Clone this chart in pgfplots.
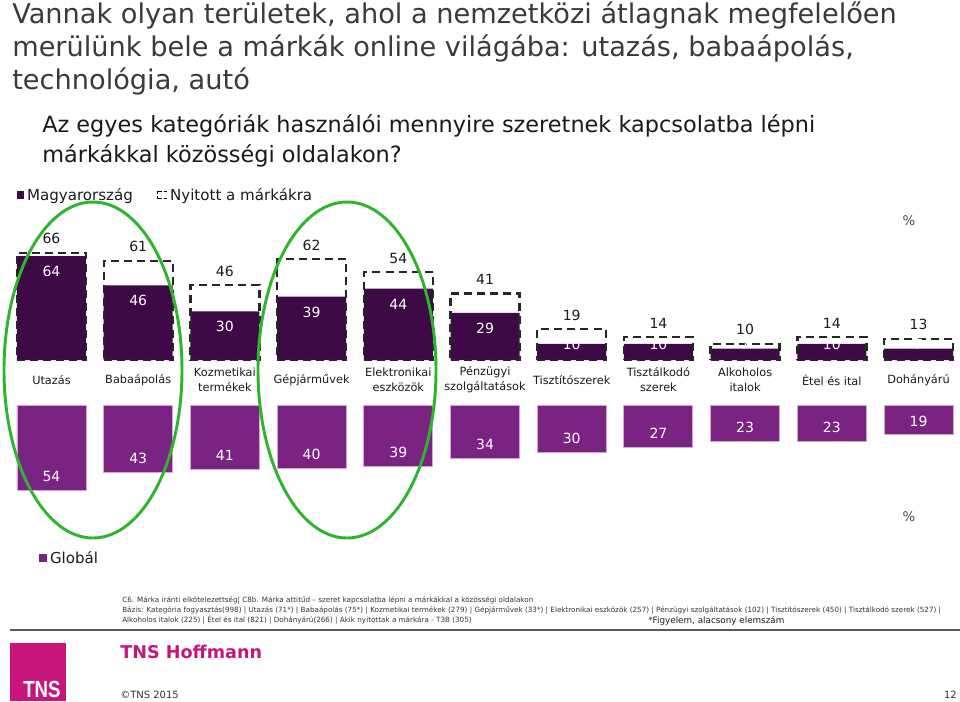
\documentclass[border=0pt]{standalone}
\usepackage{pgfplots}
\usepackage{pgfplotstable}
\pgfplotsset{compat=1.18}
\usepackage{fontspec}
\setmainfont{DejaVu Sans}
\newfontfamily\libsans{Liberation Sans}
\definecolor{darkbar}{HTML}{3E0A45}
\definecolor{globbar}{HTML}{7A2382}
\definecolor{globedge}{HTML}{D4A6D9}
\definecolor{ellgreen}{HTML}{2DB52D}
\definecolor{tnsmag}{HTML}{C8157C}
\definecolor{titlegray}{HTML}{3A3A3A}
\definecolor{txt}{HTML}{1A1A1A}
\definecolor{footgray}{HTML}{333333}
\newcommand{\fs}[2]{\fontsize{#1}{#2}\selectfont}

% top chart: Magyarorszag (hu), Nyitott a markakra (op), label position for hu
\pgfplotstableread{
x hu op hulab
0 64 66 54.4
1 46 61 36.4
2 30 46 20.4
3 39 62 29.4
4 44 54 34.4
5 29 41 19.4
6 10 19 9.4
7 10 14 9.4
8 7 10 9.4
9 10 14 9.4
10 7 13 9.4
}\toptable

% bottom chart: Global (gl), label position
\pgfplotstableread{
x gl gllab
0 54 45.1
1 43 34.1
2 41 32.1
3 40 31.1
4 39 30.1
5 34 25.1
6 30 21.1
7 27 18.1
8 23 14.1
9 23 14.1
10 19 10.1
}\bottable

\begin{document}
\begin{tikzpicture}
\useasboundingbox (0pt,0pt) rectangle (720pt,-525.75pt);

% ---------------- top chart ----------------
\begin{axis}[
  at={(6.11pt,-270pt)}, anchor=south west,
  scale only axis, width=715.3pt, height=85.31pt,
  xmin=-0.5, xmax=10.5, ymin=0, ymax=70,
  clip=false,
  axis line style={draw=none},
  tick style={draw=none},
  ytick=\empty,
  xtick={0,...,10},
  xtick pos=left,
  xticklabels={Utazás,Babaápolás,{Kozmetikai\\termékek},Gépjárművek,{Elektronikai\\eszközök},{Pénzügyi\\szolgáltatások},Tisztítószerek,{Tisztálkodó\\szerek},{Alkoholos\\italok},Étel és ital,Dohányárú},
  xticklabel style={align=center, font=\fs{8.5}{11.2}, text=txt, anchor=center, yshift=-15pt},
  legend columns=2,
  legend style={draw=none, fill=none, inner sep=0pt, font=\fs{11.3}{13}, text=txt,
    at={(0.0093,1.4505)}, anchor=west,
    /tikz/every even column/.append style={column sep=16pt}},
  legend cell align=left,
]
\addplot[ybar, bar width=51.75pt, bar shift=0pt, fill=darkbar, draw=none,
  legend image code/.code={\fill[darkbar] (0pt,-2.7pt) rectangle (5.4pt,2.7pt);}]
  table[x=x, y=hu] {\toptable};
\addlegendentry{Magyarország}
\addplot[ybar, bar width=51.75pt, bar shift=0pt, fill=none, draw=black!85,
  line width=1.8pt, dash pattern=on 6pt off 3.8pt,
  nodes near coords, point meta=explicit symbolic,
  nodes near coords align={center},
  every node near coord/.append style={font=\fs{10.5}{12}, text=txt, yshift=10.5pt, solid},
  legend image code/.code={\draw[black, line width=0.9pt, dash pattern=on 2.2pt off 1.2pt] (7pt,2.6pt) -- (0pt,2.6pt) -- (0pt,-2.6pt) -- (7pt,-2.6pt);}]
  table[x=x, y=op, meta=op] {\toptable};
\addlegendentry{Nyitott a márkákra}
\addplot[draw=none, mark=none, forget plot,
  nodes near coords, point meta=explicit symbolic,
  nodes near coords align={center},
  every node near coord/.append style={font=\fs{10.5}{12}, text=white}]
  table[x=x, y=hulab, meta=hu] {\toptable};
\end{axis}

% ---------------- bottom chart ----------------
\begin{axis}[
  at={(6.11pt,-303.75pt)}, anchor=north west,
  scale only axis, width=715.3pt, height=70.83pt,
  xmin=-0.5, xmax=10.5, ymin=0, ymax=60,
  y dir=reverse,
  clip=false,
  hide axis,
  legend style={draw=none, fill=none, inner sep=0pt, font=\fs{11.3}{13}, text=txt,
    at={(0.0323,-0.62)}, anchor=west},
  legend cell align=left,
]
\addplot[ybar, bar width=51.75pt, bar shift=0pt, fill=globbar, draw=globedge, line width=0.7pt,
  legend image code/.code={\fill[globbar] (0pt,-2.7pt) rectangle (5.4pt,2.7pt);}]
  table[x=x, y=gl] {\bottable};
\addlegendentry{Globál}
\addplot[draw=none, mark=none, forget plot,
  nodes near coords, point meta=explicit symbolic,
  nodes near coords align={center},
  every node near coord/.append style={font=\fs{10.5}{12}, text=white}]
  table[x=x, y=gllab, meta=gl] {\bottable};
\end{axis}

% ---------------- slide decoration ----------------
\begin{scope}[x=0.75pt, y=-0.75pt]
  % green ellipses
  \draw[ellgreen, line width=2.2pt] (93,370) ellipse [x radius=89, y radius=168];
  \draw[ellgreen, line width=2.2pt] (347,370) ellipse [x radius=89, y radius=168];

  % title
  \node[anchor=base west, inner sep=0, text=titlegray, font=\fs{20.4}{24}] at (12,23) {Vannak olyan területek, ahol a nemzetközi átlagnak megfelelően};
  \node[anchor=base west, inner sep=0, text=titlegray, font=\fs{20.4}{24}] at (12,56) {merülünk bele a márkák online világába: utazás, babaápolás,};
  \node[anchor=base west, inner sep=0, text=titlegray, font=\fs{20.4}{24}] at (12,89) {technológia, autó};
  % subtitle
  \node[anchor=base west, inner sep=0, text=txt, font=\fs{16.8}{20}] at (42,132) {Az egyes kategóriák használói mennyire szeretnek kapcsolatba lépni};
  \node[anchor=base west, inner sep=0, text=txt, font=\fs{16.8}{20}] at (42,162) {márkákkal közösségi oldalakon?};

  % percent signs
  \node[text=black!70, font=\fs{10}{12}] at (909,221) {\%};
  \node[text=black!70, font=\fs{10}{12}] at (909,517) {\%};

  % footnote
  \node[anchor=base west, inner sep=0, text=footgray, font=\fs{5.4}{6}] at (122,602.5) {C6. Márka iránti elkötelezettség| C8b. Márka attitűd – szeret kapcsolatba lépni a márkákkal a közösségi oldalakon};
  \node[anchor=base west, inner sep=0, text=footgray, font=\fs{5.4}{6}] at (122,612) {Bázis: Kategória fogyasztás(998) | Utazás (71*) | Babaápolás (75*) | Kozmetikai termékek (279) | Gépjárművek (33*) | Elektronikai eszközök (257) | Pénzügyi szolgáltatások (102) | Tisztítószerek (450) | Tisztálkodó szerek (527) |};
  \node[anchor=base west, inner sep=0, text=footgray, font=\fs{5.4}{6}] at (122,622.5) {Alkoholos italok (225) | Étel és ital (821) | Dohányárú(266) | Akik nyitottak a márkára - T3B (305)};
  \node[anchor=base west, inner sep=0, text=txt, font=\fs{6.6}{8}] at (648,623) {*Figyelem, alacsony elemszám};

  % rule
  \draw[black!65, line width=1.1pt] (10,630) -- (960,630);

  % logo
  \fill[tnsmag] (10,643) rectangle (66,701);
  \node[anchor=base west, inner sep=0, text=white] at (23,697) {\scalebox{0.8}[1]{\libsans\bfseries\fs{17.5}{20}TNS}};
  \node[anchor=base west, inner sep=0, text=tnsmag, font=\bfseries\fs{13.2}{15}] at (120,658) {TNS Hoffmann};
  \node[anchor=base west, inner sep=0, text=footgray, font=\fs{7.5}{9}] at (120,698) {©TNS 2015};
  \node[anchor=base east, inner sep=0, text=footgray, font=\fs{7.5}{9}] at (957,698) {12};
\end{scope}
\end{tikzpicture}
\end{document}
